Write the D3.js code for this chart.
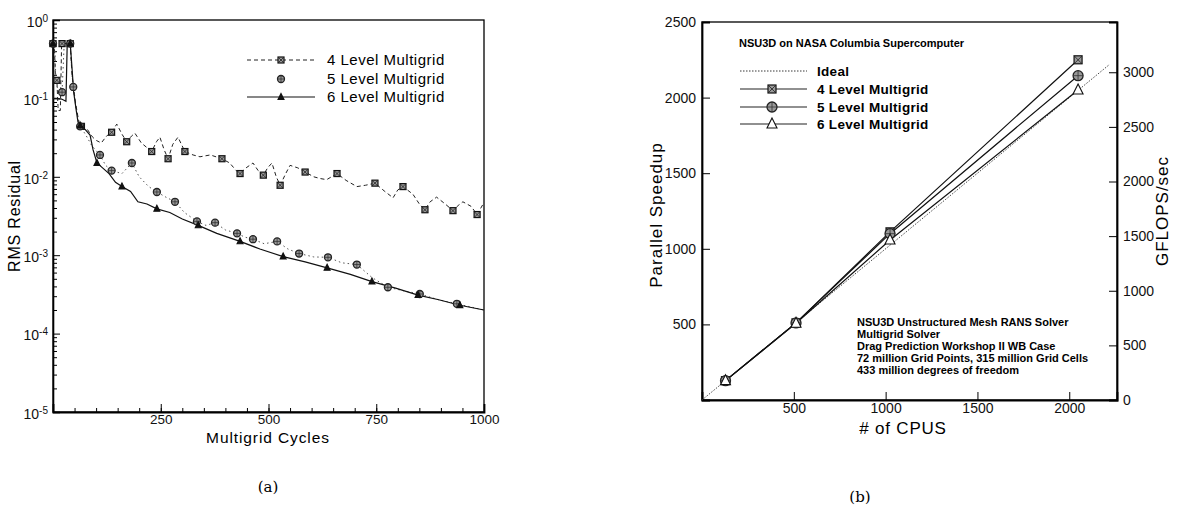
<!DOCTYPE html>
<html>
<head>
<meta charset="utf-8">
<script src="https://cdn.jsdelivr.net/npm/d3@7"></script>
<style>
  body { margin: 0; background: #fff; }
  svg { font-family: "Liberation Sans", Arial, sans-serif; }
  .axis path, .axis line { stroke: #000; }
  .axis text { font-size: 14px; fill: #111; }
</style>
</head>
<body>
<svg id="fig" width="1177" height="507"></svg>
<script>
// ---- panel (a): residual histories ----
const level4 = [[0,0.5],[3,0.5],[6,0.17],[9,0.17],[12,0.07],[17,0.07],[20,0.5],[36,0.5],[40,0.5],[44,0.2],[52,0.09],[60,0.05],[66,0.044],[80,0.04],[92,0.032],[101,0.029],[112,0.027],[124,0.033],[136,0.037],[148,0.047],[160,0.035],[171,0.028],[182,0.033],[190,0.036],[205,0.027],[229,0.021],[240,0.028],[248,0.032],[258,0.022],[267,0.017],[278,0.026],[290,0.032],[306,0.021],[325,0.019],[341,0.018],[365,0.019],[392,0.017],[410,0.015],[425,0.012],[434,0.011],[448,0.013],[464,0.015],[476,0.012],[488,0.0105],[498,0.013],[508,0.015],[518,0.01],[527,0.0078],[540,0.011],[550,0.014],[568,0.013],[585,0.0115],[605,0.01],[620,0.0095],[635,0.0092],[659,0.011],[680,0.009],[705,0.0075],[725,0.0078],[747,0.0083],[770,0.0065],[789,0.0054],[800,0.0068],[812,0.0075],[835,0.006],[850,0.0045],[863,0.0038],[875,0.0048],[890,0.0055],[910,0.0045],[928,0.0037],[940,0.0043],[951,0.0048],[970,0.0042],[984,0.0033],[1000,0.0047]];
const marks4 = [[0,0.5],[9,0.17],[21,0.5],[40,0.5],[66,0.044],[136,0.037],[171,0.028],[229,0.021],[267,0.017],[306,0.021],[392,0.017],[434,0.011],[488,0.0105],[527,0.0078],[585,0.0115],[659,0.011],[747,0.0083],[812,0.0075],[863,0.0038],[928,0.0037],[984,0.0033]];

const level5 = [[0,0.5],[4,0.5],[7,0.15],[12,0.13],[21,0.12],[26,0.5],[40,0.5],[44,0.2],[47,0.14],[54,0.07],[63,0.044],[75,0.035],[90,0.025],[109,0.019],[122,0.014],[136,0.012],[160,0.011],[183,0.015],[200,0.01],[222,0.0075],[241,0.0064],[262,0.0055],[283,0.0048],[305,0.0035],[334,0.0027],[355,0.0024],[376,0.0026],[400,0.0021],[427,0.0019],[445,0.0017],[464,0.0016],[490,0.0014],[520,0.0015],[545,0.0012],[571,0.00105],[605,0.00095],[638,0.00094],[670,0.0008],[705,0.00076],[740,0.00052],[777,0.00039],[815,0.00035],[851,0.00032],[895,0.00027],[937,0.00024],[1000,0.0002]];
const marks5 = [[0,0.5],[21,0.12],[40,0.5],[47,0.14],[63,0.044],[109,0.019],[136,0.012],[183,0.015],[241,0.0064],[283,0.0048],[334,0.0027],[376,0.0026],[427,0.0019],[464,0.0016],[520,0.0015],[571,0.00105],[638,0.00094],[705,0.00076],[777,0.00039],[851,0.00032],[937,0.00024]];

const level6 = [[0,0.5],[1,0.1],[8,0.1],[20,0.098],[30,0.092],[33,0.5],[40,0.5],[44,0.25],[48,0.12],[54,0.07],[58,0.05],[63,0.045],[75,0.04],[86,0.034],[93,0.022],[102,0.015],[115,0.013],[130,0.011],[145,0.0085],[160,0.0075],[180,0.0065],[197,0.0048],[218,0.0045],[241,0.0039],[271,0.0035],[300,0.0029],[337,0.0024],[380,0.0019],[434,0.0015],[480,0.0012],[534,0.00096],[585,0.00082],[636,0.00069],[690,0.00057],[740,0.00046],[795,0.00038],[847,0.00031],[895,0.00027],[944,0.00023],[1000,0.0002]];
const marks6 = [[0,0.5],[40,0.5],[63,0.045],[102,0.015],[160,0.0075],[241,0.0039],[337,0.0024],[434,0.0015],[534,0.00096],[636,0.00069],[740,0.00046],[847,0.00031],[944,0.00023]];

const cycleTicks = [250, 500, 750, 1000];
const residTicks = [1, 1e-1, 1e-2, 1e-3, 1e-4, 1e-5];
const legendA = ['4 Level Multigrid', '5 Level Multigrid', '6 Level Multigrid'];

// ---- panel (b): scaling ----
const cpus = [128, 512, 1024, 2048];
const speed4 = [128, 510, 1112, 2250];
const speed5 = [128, 510, 1100, 2145];
const speed6 = [128, 508, 1058, 2050];
const idealCpus = [0, 2220];
const speedTicks = [500, 1000, 1500, 2000, 2500];
const cpuTicks = [500, 1000, 1500, 2000];
const gflopTicks = [0, 500, 1000, 1500, 2000, 2500, 3000];
const legendB = ['Ideal', '4 Level Multigrid', '5 Level Multigrid', '6 Level Multigrid'];
const notesB = ['NSU3D Unstructured Mesh RANS Solver', 'Multigrid Solver',
  'Drag Prediction Workshop II WB Case',
  '72 million Grid Points, 315 million Grid Cells',
  '433 million degrees of freedom'];

const svg = d3.select('#fig');
svg.append('rect').attr('width', 1177).attr('height', 507).attr('fill', '#fff');
const plain = d3.format('d');

// marker drawers
function squareX(g, x, y, s) {
  g.append('rect').attr('x', x - s/2).attr('y', y - s/2).attr('width', s).attr('height', s)
    .attr('fill', '#999').attr('stroke', '#111').attr('stroke-width', 1.2);
  g.append('path').attr('d', `M${x-s/2},${y-s/2}L${x+s/2},${y+s/2}M${x+s/2},${y-s/2}L${x-s/2},${y+s/2}`)
    .attr('stroke', '#222').attr('stroke-width', 0.8);
}
function circleX(g, x, y, r) {
  g.append('circle').attr('cx', x).attr('cy', y).attr('r', r)
    .attr('fill', '#999').attr('stroke', '#222').attr('stroke-width', 1.3);
  g.append('path').attr('d', `M${x-r},${y}L${x+r},${y}M${x},${y-r}L${x},${y+r}`)
    .attr('stroke', '#333').attr('stroke-width', 0.8);
}
function triangle(g, x, y, s, fill) {
  g.append('path').attr('d', `M${x},${y-s*0.6}L${x+s/2},${y+s*0.4}L${x-s/2},${y+s*0.4}Z`)
    .attr('fill', fill).attr('stroke', '#111').attr('stroke-width', 1.1);
}

// ================= panel (a) =================
const xA = d3.scaleLinear().domain([0, 1000]).range([53, 484]);
const yA = d3.scaleLog().domain([1e-5, 1]).range([412, 20]);
const gA = svg.append('g');

// frame
gA.append('rect').attr('x', 53).attr('y', 20).attr('width', 431).attr('height', 392)
  .attr('fill', 'none').attr('stroke', '#000').attr('stroke-width', 1.3);

// minor ticks
const minorLog = [];
for (let d = -5; d < 0; d++) for (let k = 2; k <= 9; k++) minorLog.push(k * Math.pow(10, d));
gA.append('g').attr('class', 'axis').attr('transform', 'translate(53,0)')
  .call(d3.axisLeft(yA).tickValues(minorLog).tickSize(-4).tickFormat(''))
  .select('.domain').remove();
const yAx = gA.append('g').attr('class', 'axis').attr('transform', 'translate(53,0)')
  .call(d3.axisLeft(yA).tickValues(residTicks).tickSize(-7).tickPadding(5).tickFormat(''));
yAx.select('.domain').attr('stroke-width', 1.6);
yAx.selectAll('.tick text').each(function(d) {
  const t = d3.select(this).attr('dy', '0.45em').style('font-size', '14px');
  t.append('tspan').text('10');
  t.append('tspan').attr('dy', '-0.5em').style('font-size', '10px').text(Math.round(Math.log10(d)));
});

gA.append('g').attr('class', 'axis').attr('transform', 'translate(0,412)')
  .call(d3.axisBottom(xA).tickValues(d3.range(50, 1000, 50)).tickSize(-4).tickFormat(''))
  .select('.domain').remove();
const xAx = gA.append('g').attr('class', 'axis').attr('transform', 'translate(0,412)')
  .call(d3.axisBottom(xA).tickValues(cycleTicks).tickSize(-8).tickPadding(2).tickFormat(plain));
xAx.select('.domain').attr('stroke-width', 1.8);
xAx.selectAll('.tick text').style('font-size', '13.5px');

gA.append('text').attr('x', 268).attr('y', 443).attr('text-anchor', 'middle')
  .style('font-size', '15.5px').style('letter-spacing', '0.9px').text('Multigrid Cycles');
gA.append('text').attr('transform', 'translate(20,216) rotate(-90)').attr('text-anchor', 'middle')
  .style('font-size', '16px').style('letter-spacing', '0.8px').text('RMS Residual');
gA.append('text').attr('x', 268).attr('y', 492).attr('text-anchor', 'middle')
  .style('font-family', '"DejaVu Serif", "Liberation Serif", serif').style('font-size', '15px').text('(a)');

const lineA = d3.line().x(d => xA(d[0])).y(d => yA(d[1]));
gA.append('path').datum(level4).attr('d', lineA).attr('fill', 'none')
  .attr('stroke', '#222').attr('stroke-width', 1).attr('stroke-dasharray', '4,3');
gA.append('path').datum(level5).attr('d', lineA).attr('fill', 'none')
  .attr('stroke', '#555').attr('stroke-width', 1).attr('stroke-dasharray', '1.5,3');
gA.append('path').datum(level6).attr('d', lineA).attr('fill', 'none')
  .attr('stroke', '#111').attr('stroke-width', 1.2);

const mA = gA.append('g');
marks4.forEach(d => squareX(mA, xA(d[0]), yA(d[1]), 6));
marks5.forEach(d => circleX(mA, xA(d[0]), yA(d[1]), 3.5));
marks6.forEach(d => triangle(mA, xA(d[0]), yA(d[1]), 6, '#111'));

// legend (a)
const legA = gA.append('g');
const legAy = [60, 79, 97];
legA.append('line').attr('x1', 247).attr('x2', 315).attr('y1', legAy[0]).attr('y2', legAy[0])
  .attr('stroke', '#222').attr('stroke-dasharray', '4,3');
squareX(legA, 281, legAy[0], 6);
circleX(legA, 281, legAy[1], 3.5);
legA.append('line').attr('x1', 247).attr('x2', 315).attr('y1', legAy[2]).attr('y2', legAy[2])
  .attr('stroke', '#111').attr('stroke-width', 1.2);
triangle(legA, 281, legAy[2], 6, '#111');
legendA.forEach((t, i) => legA.append('text').attr('x', 327).attr('y', legAy[i] + 5)
  .style('font-size', '15px').style('letter-spacing', '0.5px').text(t));

// ================= panel (b) =================
const xB = d3.scaleLinear().domain([0, 2260]).range([702, 1117]);
const yB = d3.scaleLinear().domain([0, 2500]).range([400, 22]);
const yB2 = d3.scaleLinear().domain([0, 3460]).range([400, 22]);
const gB = svg.append('g');

gB.append('rect').attr('x', 702).attr('y', 22).attr('width', 415).attr('height', 378)
  .attr('fill', 'none').attr('stroke', '#000').attr('stroke-width', 1.3);

const yBx = gB.append('g').attr('class', 'axis').attr('transform', 'translate(702,0)')
  .call(d3.axisLeft(yB).tickValues(speedTicks).tickSize(-8).tickPadding(6).tickFormat(plain));
yBx.select('.domain').attr('stroke-width', 1.8);
yBx.selectAll('.tick text').style('font-size', '14px');

const yB2x = gB.append('g').attr('class', 'axis').attr('transform', 'translate(1117,0)')
  .call(d3.axisRight(yB2).tickValues(gflopTicks).tickSize(-8).tickPadding(6).tickFormat(plain));
yB2x.select('.domain').attr('stroke-width', 1.8);
yB2x.selectAll('.tick text').style('font-size', '14px');

const xBx = gB.append('g').attr('class', 'axis').attr('transform', 'translate(0,400)')
  .call(d3.axisBottom(xB).tickValues(cpuTicks).tickSize(-8).tickPadding(3).tickFormat(plain));
xBx.select('.domain').attr('stroke-width', 1.8);
xBx.selectAll('.tick text').style('font-size', '14px');

gB.append('text').attr('x', 903).attr('y', 434).attr('text-anchor', 'middle')
  .style('font-size', '17px').style('letter-spacing', '0.8px').text('# of CPUS');
gB.append('text').attr('transform', 'translate(662,215) rotate(-90)').attr('text-anchor', 'middle')
  .style('font-size', '17px').style('letter-spacing', '1px').text('Parallel Speedup');
gB.append('text').attr('transform', 'translate(1168,211) rotate(-90)').attr('text-anchor', 'middle')
  .style('font-size', '17px').style('letter-spacing', '1px').text('GFLOPS/sec');
gB.append('text').attr('x', 860).attr('y', 502).attr('text-anchor', 'middle')
  .style('font-family', '"DejaVu Serif", "Liberation Serif", serif').style('font-size', '15px').text('(b)');

// ideal
const lineB = d3.line().x(d => xB(d[0])).y(d => yB(d[1]));
gB.append('path').datum(idealCpus.map(c => [c, c])).attr('d', lineB).attr('fill', 'none')
  .attr('stroke', '#333').attr('stroke-width', 0.9).attr('stroke-dasharray', '1.5,1.5');
[speed4, speed5, speed6].forEach(s => {
  gB.append('path').datum(cpus.map((c, i) => [c, s[i]])).attr('d', lineB).attr('fill', 'none')
    .attr('stroke', '#111').attr('stroke-width', 1.2);
});
const mB = gB.append('g');
cpus.forEach((c, i) => {
  squareX(mB, xB(c), yB(speed4[i]), 8);
  circleX(mB, xB(c), yB(speed5[i]), 5);
  triangle(mB, xB(c), yB(speed6[i]), 10, '#fff');
});

// legend (b)
gB.append('text').attr('x', 739).attr('y', 47).style('font-size', '11px').style('font-weight', 'bold')
  .text('NSU3D on NASA Columbia Supercomputer');
const legBy = [71, 89, 107, 124];
const legB = gB.append('g');
legBy.forEach((y, i) => {
  legB.append('line').attr('x1', 740).attr('x2', 807).attr('y1', y).attr('y2', y)
    .attr('stroke', '#222').attr('stroke-width', i === 0 ? 0.9 : 1.2)
    .attr('stroke-dasharray', i === 0 ? '1.5,1.5' : null);
  legB.append('text').attr('x', 817).attr('y', y + 5).style('font-size', '13.5px').style('font-weight', 'bold')
    .style('letter-spacing', '0.3px').text(legendB[i]);
});
squareX(legB, 772, legBy[1], 8);
circleX(legB, 772, legBy[2], 5);
triangle(legB, 772, legBy[3], 10, '#fff');

notesB.forEach((t, i) => gB.append('text').attr('x', 857).attr('y', 326 + i * 12)
  .style('font-size', '11px').style('font-weight', 'bold').text(t));
</script>
</body>
</html>
